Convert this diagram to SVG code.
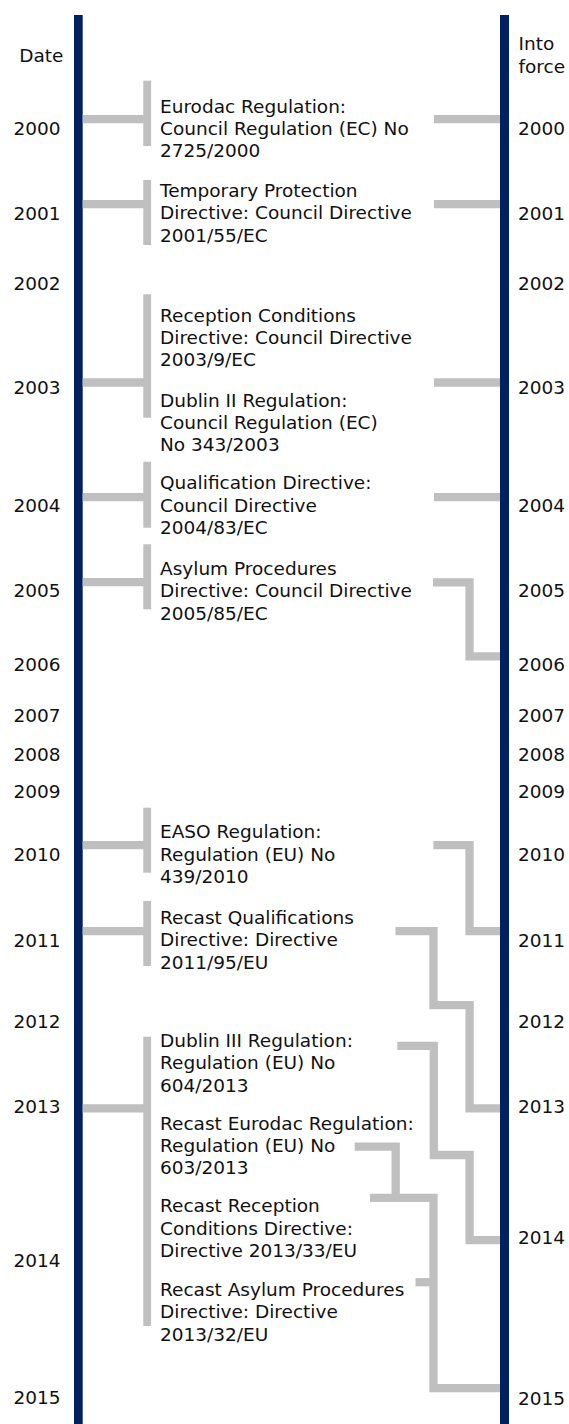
<svg xmlns="http://www.w3.org/2000/svg" width="569" height="1424" viewBox="0 0 569 1424">
<style>
text{font-family:"DejaVu Sans","Verdana","Liberation Sans",sans-serif;font-size:18.5px;fill:#111}
.yl{text-anchor:end}
.axis{fill:#002060}
.c{fill:none;stroke:#bfbfbf;stroke-width:8.3;stroke-linejoin:miter;stroke-linecap:butt}
.br{fill:none;stroke:#bfbfbf;stroke-width:7.8}
</style>
<rect width="569" height="1424" fill="#fff"/>
<g id="axis-date"><rect class="axis" x="74" y="15" width="8.7" height="1409"/></g>
<g id="axis-force"><rect class="axis" x="500" y="15" width="9" height="1409"/></g>
<g id="header-date"><text class="yl" x="63.5" y="61.7">Date</text></g>
<g id="header-force"><text x="518.5" y="50">Into</text><text x="518.5" y="73">force</text></g>
<g id="years-left">
<text class="yl" x="60.5" y="135">2000</text>
<text class="yl" x="60.5" y="220">2001</text>
<text class="yl" x="60.5" y="290">2002</text>
<text class="yl" x="60.5" y="394">2003</text>
<text class="yl" x="60.5" y="511.7">2004</text>
<text class="yl" x="60.5" y="597.3">2005</text>
<text class="yl" x="60.5" y="671">2006</text>
<text class="yl" x="60.5" y="721.7">2007</text>
<text class="yl" x="60.5" y="760.7">2008</text>
<text class="yl" x="60.5" y="798.3">2009</text>
<text class="yl" x="60.5" y="860.7">2010</text>
<text class="yl" x="60.5" y="946.7">2011</text>
<text class="yl" x="60.5" y="1028.3">2012</text>
<text class="yl" x="60.5" y="1113.3">2013</text>
<text class="yl" x="60.5" y="1266.7">2014</text>
<text class="yl" x="60.5" y="1404">2015</text>
</g>
<g id="years-right">
<text x="518" y="135">2000</text>
<text x="518" y="220">2001</text>
<text x="518" y="290">2002</text>
<text x="518" y="394">2003</text>
<text x="518" y="511.7">2004</text>
<text x="518" y="597">2005</text>
<text x="518" y="671">2006</text>
<text x="518" y="721.7">2007</text>
<text x="518" y="760.7">2008</text>
<text x="518" y="798.3">2009</text>
<text x="518" y="860.7">2010</text>
<text x="518" y="946.7">2011</text>
<text x="518" y="1028.3">2012</text>
<text x="518" y="1113.3">2013</text>
<text x="518" y="1244.3">2014</text>
<text x="518" y="1404.5">2015</text>
</g>
<g id="n-eurodac"><path class="br" d="M147.2,80.7V146"/><text x="160" y="112.8"><tspan x="160">Eurodac Regulation:</tspan><tspan x="160" dy="22.3">Council Regulation (EC) No</tspan><tspan x="160" dy="22.3">2725/2000</tspan></text></g>
<g id="n-temporary"><path class="br" d="M147.2,180V245"/><text x="160" y="197"><tspan x="160">Temporary Protection</tspan><tspan x="160" dy="22.3">Directive: Council Directive</tspan><tspan x="160" dy="22.3">2001/55/EC</tspan></text></g>
<g id="n-2003"><path class="br" d="M147.2,294.3V417.7"/>
<text x="160" y="321.7"><tspan x="160">Reception Conditions</tspan><tspan x="160" dy="22.3">Directive: Council Directive</tspan><tspan x="160" dy="22.3">2003/9/EC</tspan></text>
<text x="160" y="406.7"><tspan x="160">Dublin II Regulation:</tspan><tspan x="160" dy="22.3">Council Regulation (EC)</tspan><tspan x="160" dy="22.3">No 343/2003</tspan></text></g>
<g id="n-qualification"><path class="br" d="M147.2,461.7V527.7"/><text x="160" y="489.4"><tspan x="160">Qualification Directive:</tspan><tspan x="160" dy="22.3">Council Directive</tspan><tspan x="160" dy="22.3">2004/83/EC</tspan></text></g>
<g id="n-asylum"><path class="br" d="M147.2,544.3V609.3"/><text x="160" y="575"><tspan x="160">Asylum Procedures</tspan><tspan x="160" dy="22.3">Directive: Council Directive</tspan><tspan x="160" dy="22.3">2005/85/EC</tspan></text></g>
<g id="n-easo"><path class="br" d="M147.2,807.7V872.7"/><text x="160" y="838.3"><tspan x="160">EASO Regulation:</tspan><tspan x="160" dy="22.3">Regulation (EU) No</tspan><tspan x="160" dy="22.3">439/2010</tspan></text></g>
<g id="n-recast-qual"><path class="br" d="M147.2,901V966"/><text x="160" y="924"><tspan x="160">Recast Qualifications</tspan><tspan x="160" dy="22.3">Directive: Directive</tspan><tspan x="160" dy="22.3">2011/95/EU</tspan></text></g>
<g id="n-2013"><path class="br" d="M147.2,1036.7V1326"/>
<text x="160" y="1047"><tspan x="160">Dublin III Regulation:</tspan><tspan x="160" dy="22.3">Regulation (EU) No</tspan><tspan x="160" dy="22.3">604/2013</tspan></text>
<text x="160" y="1129.5"><tspan x="160">Recast Eurodac Regulation:</tspan><tspan x="160" dy="22.3">Regulation (EU) No</tspan><tspan x="160" dy="22.3">603/2013</tspan></text>
<text x="160" y="1212.3"><tspan x="160">Recast Reception</tspan><tspan x="160" dy="22.3">Conditions Directive:</tspan><tspan x="160" dy="22.3">Directive 2013/33/EU</tspan></text>
<text x="160" y="1296"><tspan x="160">Recast Asylum Procedures</tspan><tspan x="160" dy="22.3">Directive: Directive</tspan><tspan x="160" dy="22.3">2013/32/EU</tspan></text></g>
<g id="connectors">
<path class="c" d="M82.7,119.2H147.2"/>
<path class="c" d="M82.7,204.2H147.2"/>
<path class="c" d="M82.7,382.5H147.2"/>
<path class="c" d="M82.7,497.2H147.2"/>
<path class="c" d="M82.7,582.2H147.2"/>
<path class="c" d="M82.7,845.2H147.2"/>
<path class="c" d="M82.7,931.2H147.2"/>
<path class="c" d="M82.7,1108.4H147.2"/>
<path class="c" d="M434,119.2H500"/>
<path class="c" d="M434,204.2H500"/>
<path class="c" d="M434,382.5H500"/>
<path class="c" d="M434,497.2H500"/>
<path class="c" d="M433,582.4H469.5V656.4H500"/>
<path class="c" d="M433.4,845.2H469.5V931.2H500"/>
<path class="c" d="M395.4,931.2H433.5V1005.2H469.6V1108.4H500"/>
<path class="c" d="M397.3,1045.9H433.8V1155H469.6V1240.2H500"/>
<path class="c" d="M354.7,1146.7H395.7V1198"/>
<path class="c" d="M370,1197.9H433.5V1388.2H500"/>
<path class="c" d="M415.5,1282.2H433.5"/>
</g>
</svg>
